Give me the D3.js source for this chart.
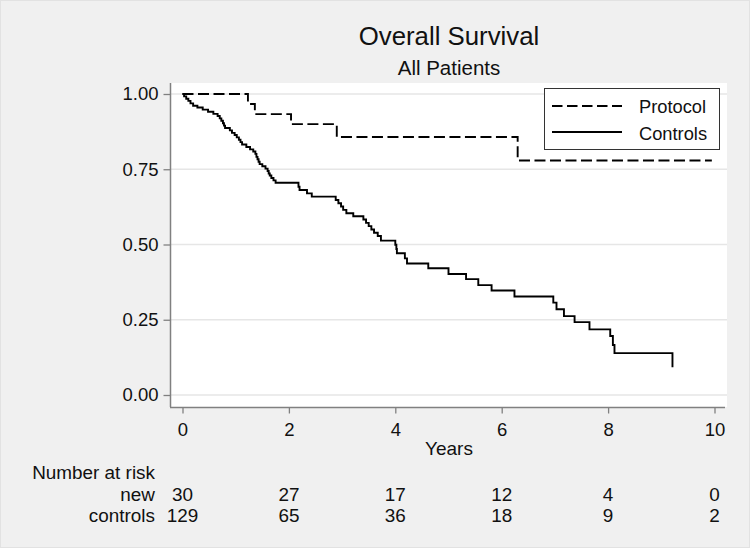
<!DOCTYPE html>
<html><head><meta charset="utf-8">
<script src="https://cdn.jsdelivr.net/npm/d3@7"></script>
<style>html,body{margin:0;padding:0;background:#f0f0f0;}svg{display:block;font-family:"Liberation Sans",Arial,sans-serif;}</style>
</head><body>
<script>
// ---- data ----
const xTicks = [0, 2, 4, 6, 8, 10];
const yTicks = [0, 0.25, 0.5, 0.75, 1];
const yTickLabels = ["0.00", "0.25", "0.50", "0.75", "1.00"];
const protocolTimes = [0, 1.23, 1.36, 2.04, 2.90, 6.30, 9.95];
const protocolSurv  = [1, 0.967, 0.933, 0.900, 0.857, 0.779, 0.779];
const controlTimes = [0, 0.03, 0.07, 0.11, 0.15, 0.20, 0.28, 0.38, 0.48, 0.58, 0.66,
  0.70, 0.73, 0.76, 0.78, 0.80, 0.89, 0.93, 0.98, 1.02, 1.06, 1.09, 1.12, 1.20, 1.27, 1.33,
  1.37, 1.39, 1.41, 1.43, 1.45, 1.50, 1.56, 1.60, 1.62, 1.64, 1.67, 1.71, 1.75,
  2.18, 2.20, 2.34, 2.43, 2.88, 2.93, 2.98, 3.02, 3.08, 3.21,
  3.40, 3.45, 3.50, 3.55, 3.60, 3.67, 3.73, 4.00, 4.02, 4.03, 4.18, 4.22,
  4.62, 5.00, 5.33, 5.56, 5.81, 6.24, 6.97, 7.03, 7.17, 7.37, 7.65, 8.04, 8.09, 8.12, 9.21];
const controlSurv = [1, 0.992, 0.984, 0.977, 0.969, 0.961, 0.955, 0.948, 0.941, 0.934, 0.927,
  0.919, 0.911, 0.903, 0.895, 0.887, 0.879, 0.871, 0.864, 0.856, 0.848, 0.840, 0.832, 0.824, 0.816, 0.809,
  0.801, 0.791, 0.783, 0.775, 0.767, 0.760, 0.752, 0.744, 0.736, 0.729, 0.721, 0.713, 0.705,
  0.692, 0.681, 0.670, 0.659, 0.648, 0.637, 0.626, 0.615, 0.604, 0.594,
  0.583, 0.572, 0.561, 0.550, 0.539, 0.528, 0.513, 0.499, 0.485, 0.471, 0.454, 0.437,
  0.421, 0.402, 0.385, 0.365, 0.347, 0.327, 0.307, 0.285, 0.262, 0.242, 0.218, 0.196, 0.166, 0.139, 0.092];
const seriesNames = ["Protocol", "Controls"];
const riskLabels = ["new", "controls"];
const riskNew = [30, 27, 17, 12, 4, 0];
const riskControls = [129, 65, 36, 18, 9, 2];

// ---- layout ----
const W = 750, H = 548;
const svg = d3.select("body").append("svg").attr("width", W).attr("height", H);
svg.append("rect").attr("x", 0.5).attr("y", 0.5).attr("width", W - 1).attr("height", H - 1)
  .attr("fill", "#f0f0f0").attr("stroke", "#e2e2e2");

const x = d3.scaleLinear().domain([0, 10]).range([182.5, 714.5]);
const y = d3.scaleLinear().domain([0, 1]).range([395, 94]);
const plotL = 171, plotR = 727, plotT = 83, plotB = 407;

svg.append("rect").attr("x", plotL).attr("y", plotT).attr("width", plotR - plotL).attr("height", plotB - plotT)
  .attr("fill", "#ffffff");

// gridlines
svg.append("g").selectAll("line").data(yTicks).join("line")
  .attr("x1", plotL).attr("x2", plotR)
  .attr("y1", d => y(d)).attr("y2", d => y(d))
  .attr("stroke", "#e6e6e6").attr("stroke-width", 1.5);

// y axis
const yAxis = d3.axisLeft(y).tickValues(yTicks).tickSize(7).tickPadding(5)
  .tickFormat((d, i) => yTickLabels[i]);
const gy = svg.append("g").attr("transform", `translate(${plotL - 0.5},0)`).call(yAxis);
gy.select(".domain").attr("d", `M0,${plotT}V${plotB}`).attr("stroke", "#808080").attr("stroke-width", 1.5);
gy.selectAll(".tick line").attr("stroke", "#808080").attr("stroke-width", 1.3);
gy.selectAll(".tick text").attr("font-size", 18.5).attr("fill", "#111").attr("font-family", "Liberation Sans, Arial, sans-serif");

// x axis
const xAxis = d3.axisBottom(x).tickValues(xTicks).tickSize(6).tickPadding(9).tickFormat(d3.format("d"));
const gx = svg.append("g").attr("transform", `translate(0,${plotB + 0.5})`).call(xAxis);
gx.select(".domain").attr("d", `M${plotL - 1},0H${plotR - 2}`).attr("stroke", "#808080").attr("stroke-width", 1.5);
gx.selectAll(".tick line").attr("stroke", "#808080").attr("stroke-width", 1.3);
gx.selectAll(".tick text").attr("font-size", 18.5).attr("fill", "#111").attr("font-family", "Liberation Sans, Arial, sans-serif");

// axis title
svg.append("text").attr("x", (plotL + plotR) / 2).attr("y", 455).attr("text-anchor", "middle")
  .attr("font-size", 19).attr("fill", "#111").text("Years");

// curves
const line = d3.line().x(d => x(d[0])).y(d => y(d[1])).curve(d3.curveStepAfter);
const protoData = protocolTimes.map((t, i) => [t, protocolSurv[i]]);
const ctrlData = controlTimes.map((t, i) => [t, controlSurv[i]]);
svg.append("path").attr("d", line(protoData)).attr("fill", "none").attr("stroke", "#000")
  .attr("stroke-width", 1.9).attr("stroke-dasharray", "11,4.5");
svg.append("path").attr("d", line(ctrlData)).attr("fill", "none").attr("stroke", "#000")
  .attr("stroke-width", 1.9);

// legend
const lg = svg.append("g");
lg.append("rect").attr("x", 544.5).attr("y", 88.5).attr("width", 175).attr("height", 61)
  .attr("fill", "#fff").attr("stroke", "#333").attr("stroke-width", 1);
lg.append("line").attr("x1", 552).attr("x2", 622).attr("y1", 106).attr("y2", 106)
  .attr("stroke", "#000").attr("stroke-width", 1.9).attr("stroke-dasharray", "10.5,4.5");
lg.append("line").attr("x1", 552).attr("x2", 622).attr("y1", 132).attr("y2", 132)
  .attr("stroke", "#000").attr("stroke-width", 1.9);
lg.selectAll("text").data(seriesNames).join("text")
  .attr("x", 639).attr("y", (d, i) => 113 + i * 26.5)
  .attr("font-size", 18.3).attr("fill", "#111").text(d => d);

// titles
svg.append("text").attr("x", 449).attr("y", 45).attr("text-anchor", "middle")
  .attr("font-size", 25.8).attr("fill", "#111").text("Overall Survival");
svg.append("text").attr("x", 449).attr("y", 75).attr("text-anchor", "middle")
  .attr("font-size", 20.5).attr("fill", "#111").text("All Patients");

// number at risk table
svg.append("text").attr("x", 155).attr("y", 479).attr("text-anchor", "end")
  .attr("font-size", 18.9).attr("fill", "#111").text("Number at risk");
svg.selectAll("text.rl").data(riskLabels).join("text").attr("class", "rl")
  .attr("x", 155).attr("y", (d, i) => 501 + i * 20.5).attr("text-anchor", "end")
  .attr("font-size", 18.9).attr("fill", "#111").text(d => d);
[riskNew, riskControls].forEach((row, r) => {
  svg.append("g").selectAll("text").data(row).join("text")
    .attr("x", (d, i) => x(xTicks[i])).attr("y", 501 + r * 20.5).attr("text-anchor", "middle")
    .attr("font-size", 18.9).attr("fill", "#111").text(d => d);
});
</script>
</body></html>
